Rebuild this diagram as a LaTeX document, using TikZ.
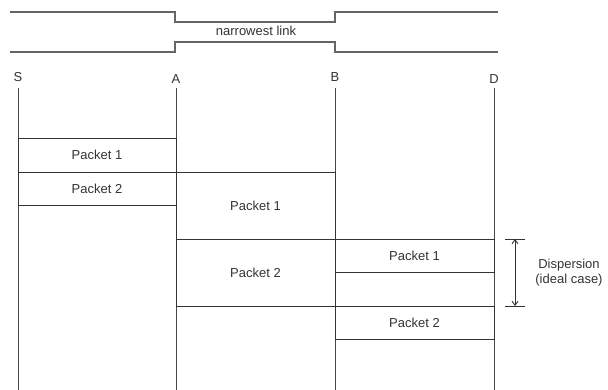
\documentclass[tikz,border=0pt]{standalone}
\usepackage{fontspec}
\setmainfont{Liberation Sans}
\usetikzlibrary{arrows.meta}
\definecolor{ink}{HTML}{333333}
\definecolor{pipe}{HTML}{666666}
\tikzset{
  pkt/.style={draw=ink, line width=0.9pt, inner sep=0pt, outer sep=0pt, text=ink,
    font=\fontsize{13}{15}\selectfont, minimum width=#1},
  pkt/.default=158pt,
  lbl/.style={text=ink, font=\fontsize{13}{15}\selectfont, inner sep=0pt},
  lifeline/.style={draw=ink!90, line width=0.9pt},
  pipeline/.style={draw=pipe, line width=1.3pt},
}
\begin{document}
\begin{tikzpicture}[x=1pt,y=-1pt]
\useasboundingbox (0,0) rectangle (608,390);
% pipe
\coordinate (t0) at (10,12); \coordinate (t1) at (175,12); \coordinate (t2) at (175,22);
\coordinate (t3) at (335,22); \coordinate (t4) at (335,12); \coordinate (t5) at (498,12);
\coordinate (b0) at (10,52); \coordinate (b1) at (175,52); \coordinate (b2) at (175,42);
\coordinate (b3) at (335,42); \coordinate (b4) at (335,52); \coordinate (b5) at (498,52);
\draw[pipeline] (t0) -- (t1) -- (t2) -- (t3) -- (t4) -- (t5);
\draw[pipeline] (b0) -- (b1) -- (b2) -- (b3) -- (b4) -- (b5);
\node[lbl] (nl) at (256,31) {narrowest link};
% stations
\node[lbl] (S) at (18,77) {S};
\node[lbl] (A) at (176,79) {A};
\node[lbl] (B) at (335,77) {B};
\node[lbl] (D) at (494,79) {D};
\foreach \n/\x in {s/18,a/176,b/335,d/494}{
  \coordinate (\n top) at (\x,88);
  \coordinate (\n bot) at (\x,390);
  \draw[lifeline] (\n top) -- (\n bot);
}
% packets
\node[pkt, minimum height=34pt] (p1a) at (97,155) {Packet 1};
\node[pkt, minimum height=33pt] (p2a) at (97,188.5) {Packet 2};
\node[pkt=159pt, minimum height=67pt] (p1b) at (255.5,205.5) {Packet 1};
\node[pkt=159pt, minimum height=67pt] (p2b) at (255.5,272.5) {Packet 2};
\node[pkt=159pt, minimum height=33pt] (p1c) at (414.5,255.5) {Packet 1};
\node[pkt=159pt, minimum height=33pt] (p2c) at (414.5,322.5) {Packet 2};
% dispersion
\coordinate (dtl) at (505,239); \coordinate (dtr) at (525,239);
\coordinate (dbl) at (505,306); \coordinate (dbr) at (525,306);
\coordinate (dt) at (515,239); \coordinate (db) at (515,306);
\draw[ink, line width=0.9pt] (dtl) -- (dtr);
\draw[ink, line width=0.9pt] (dbl) -- (dbr);
\draw[ink, line width=0.9pt, {Straight Barb[length=4pt,width=6pt]}-{Straight Barb[length=4pt,width=6pt]}] (dt) -- (db);
\node[lbl, align=center] (disp) at (569,273) {Dispersion\\(ideal case)};
\end{tikzpicture}
\end{document}
